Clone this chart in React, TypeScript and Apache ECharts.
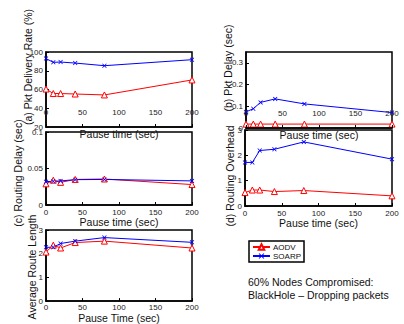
import React, { useEffect, useRef } from "react";
import * as echarts from "echarts";

const pauseTimes = [0, 10, 20, 40, 80, 200];
const seriesNames = ["AODV", "SOARP"];

const pdrAodv = [60.5, 55.7, 55.7, 55.2, 54.2, 70.2];
const pdrSoarp = [93, 89, 89.3, 88.2, 85.4, 91.8];

const delayAodv = [0.018, 0.018, 0.018, 0.018, 0.018, 0.018];
const delaySoarp = [0.074, 0.089, 0.118, 0.134, 0.111, 0.071];

const rdelayAodv = [0.029, 0.034, 0.031, 0.035, 0.0356, 0.028];
const rdelaySoarp = [0.032, 0.0325, 0.033, 0.0347, 0.035, 0.033];

const overheadAodv = [0.53, 0.63, 0.63, 0.57, 0.61, 0.4];
const overheadSoarp = [1.72, 1.72, 2.19, 2.24, 2.53, 1.85];

const routeAodv = [2.07, 2.36, 2.24, 2.47, 2.53, 2.24];
const routeSoarp = [2.27, 2.27, 2.43, 2.53, 2.68, 2.48];

const yTitles = [
  "(a) Pkt Delivery Rate (%)",
  "(b) Pkt Delay (sec)",
  "(c) Routing Delay (sec)",
  "(d) Routing Overhead",
  "Average Route Length",
];
const xTitles = ["Pause time (sec)", "Pause time (sec)", "Pause time (sec)", "Pause time (sec)", "Pause Time (sec)"];
const noteLines = ["60% Nodes Compromised:", "BlackHole \u2013 Dropping packets"];

const FONT = "'Liberation Sans', Arial, Helvetica, sans-serif";
const XMARK = "path://M0,1.2L1.2,0L5,3.8L8.8,0L10,1.2L6.2,5L10,8.8L8.8,10L5,6.2L1.2,10L0,8.8L3.8,5Z";

export default function App() {
  const ref = useRef<HTMLDivElement>(null);
  useEffect(() => {
    document.body.style.margin = "0";
    if (!ref.current) return;
    const chart = echarts.init(ref.current, undefined, { renderer: "svg" });

    const grids = [
      { left: 46, top: 52, width: 146, height: 75 },
      { left: 246, top: 52, width: 146, height: 76 },
      { left: 46, top: 132, width: 146, height: 73 },
      { left: 245, top: 130, width: 147, height: 76 },
      { left: 46, top: 230, width: 146, height: 75 },
    ].map((g) => ({ ...g, show: true, borderColor: "#000", borderWidth: 1.5, backgroundColor: "#fff" }));

    const xCfg = [
      { inside: true, margin: 11, nameGap: -13 },
      { inside: true, margin: 11, nameGap: -13 },
      { inside: false, margin: 3, nameGap: 9 },
      { inside: false, margin: 3, nameGap: 9 },
      { inside: false, margin: 2, nameGap: 7 },
    ];
    const xAxis = xCfg.map((c, i) => ({
      type: "value",
      gridIndex: i,
      min: 0,
      max: 200,
      interval: 50,
      name: xTitles[i],
      nameLocation: "middle",
      nameGap: c.nameGap,
      nameTextStyle: { fontSize: 10.5, color: "#111", fontFamily: FONT },
      axisLine: { show: true, lineStyle: { color: "#000", width: 1.5 } },
      axisTick: { show: true, inside: true, length: 3, lineStyle: { color: "#000", width: 1 } },
      splitLine: { show: false },
      axisLabel: { inside: c.inside, margin: c.margin, fontSize: 8, color: "#222", fontFamily: FONT },
      z: 3,
    }));

    const yCfg = [
      { min: 20, max: 100, interval: 20, showMax: true },
      { min: 0, max: 0.35, interval: 0.1, showMax: false },
      { min: 0, max: 0.1, interval: 0.05, showMax: true },
      { min: 0, max: 3, interval: 1, showMax: true },
      { min: 0, max: 3, interval: 1, showMax: true },
    ];
    const yAxis = yCfg.map((c, i) => ({
      type: "value",
      gridIndex: i,
      min: c.min,
      max: c.max,
      interval: c.interval,
      axisLine: { show: true, lineStyle: { color: "#000", width: 1.5 } },
      axisTick: { show: true, inside: true, length: 3, lineStyle: { color: "#000", width: 1 } },
      splitLine: { show: false },
      axisLabel: {
        margin: 3,
        fontSize: 8,
        color: "#222",
        fontFamily: FONT,
        showMaxLabel: c.showMax,
        formatter: (v: number) => String(Math.round(v * 1000) / 1000),
      },
    }));

    const pairs = [
      [pdrAodv, pdrSoarp],
      [delayAodv, delaySoarp],
      [rdelayAodv, rdelaySoarp],
      [overheadAodv, overheadSoarp],
      [routeAodv, routeSoarp],
    ];
    const series: any[] = [];
    pairs.forEach((p, i) => {
      series.push({
        name: seriesNames[0],
        type: "line",
        xAxisIndex: i,
        yAxisIndex: i,
        data: pauseTimes.map((x, k) => [x, p[0][k]]),
        symbol: "triangle",
        symbolSize: 6,
        lineStyle: { color: "#ff0000", width: 1 },
        itemStyle: { color: "#ffffff", borderColor: "#ff0000", borderWidth: 1 },
        z: 2,
      });
      series.push({
        name: seriesNames[1],
        type: "line",
        xAxisIndex: i,
        yAxisIndex: i,
        data: pauseTimes.map((x, k) => [x, p[1][k]]),
        symbol: XMARK,
        symbolSize: 4.5,
        lineStyle: { color: "#0000ff", width: 1 },
        itemStyle: { color: "#0000ff", borderWidth: 0 },
        z: 2,
      });
    });

    const yNamePos = [
      [28, 67],
      [228, 68],
      [18, 173],
      [230, 176],
      [32, 267],
    ];
    const graphic: any[] = yTitles.map((t, i) => ({
      type: "text",
      x: yNamePos[i][0],
      y: yNamePos[i][1],
      rotation: Math.PI / 2,
      style: {
        text: t,
        fontSize: 10.5,
        fontFamily: FONT,
        fill: "#111",
        align: "center",
        verticalAlign: "middle",
      },
      z: 10,
    }));
    noteLines.forEach((t, i) => {
      graphic.push({
        type: "text",
        x: 248,
        y: 282 + i * 13,
        style: { text: t, fontSize: 10.5, fontFamily: FONT, fill: "#111", align: "left", verticalAlign: "middle" },
      });
    });

    chart.setOption({
      animation: false,
      backgroundColor: "#fff",
      grid: grids,
      xAxis,
      yAxis,
      series,
      graphic,
      legend: {
        data: seriesNames,
        orient: "vertical",
        left: 249,
        top: 241,
        padding: [2, 3, 2, 3],
        itemGap: 1,
        itemWidth: 17,
        itemHeight: 7,
        borderColor: "#000",
        borderWidth: 1.5,
        backgroundColor: "#fff",
        textStyle: { fontSize: 8, color: "#111", fontFamily: FONT, padding: [0, 0, 0, -2] },
      },
    });
    return () => chart.dispose();
  }, []);
  return <div ref={ref} style={{ width: 404, height: 324 }} />;
}
